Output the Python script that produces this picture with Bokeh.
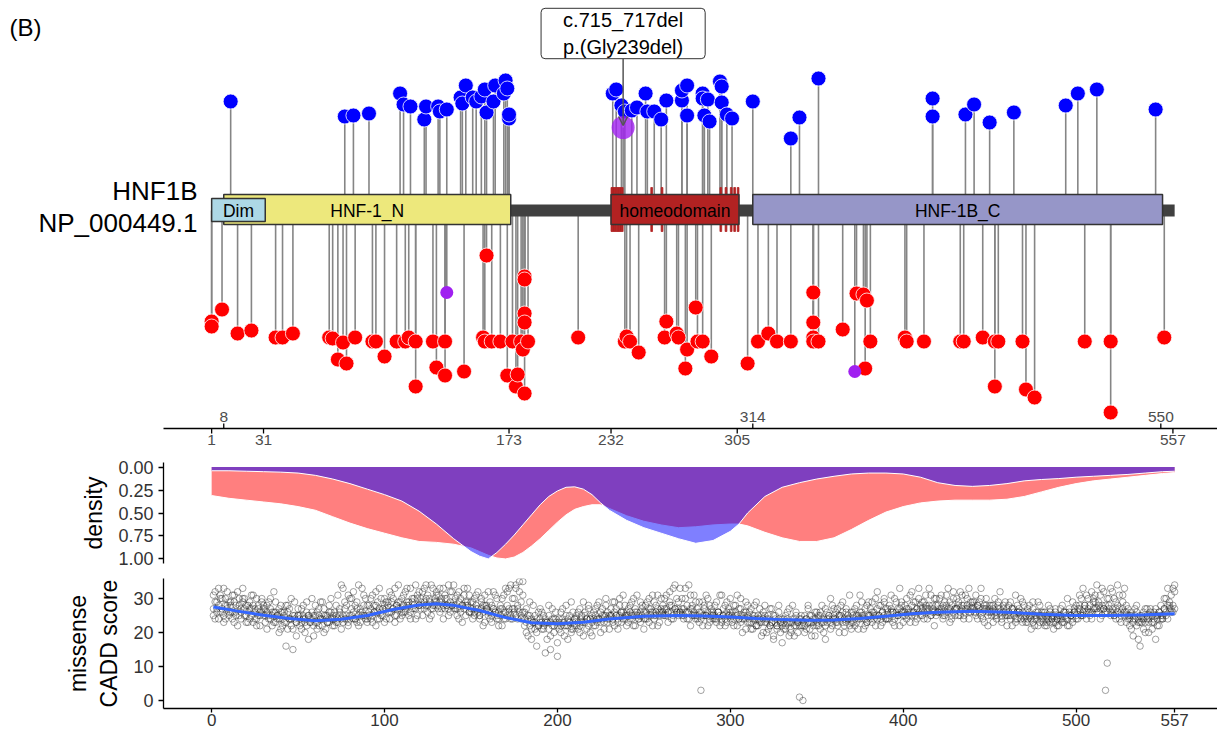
from bokeh.plotting import figure
from bokeh.layouts import column
from bokeh.models import Range1d, FixedTicker, Label, Arrow, OpenHead, NumeralTickFormatter
from bokeh.embed import file_html
from bokeh.resources import INLINE
from bokeh.core.properties import value

FONT = "Liberation Sans"
PROTEIN_LEN = 557

# ---------------- protein domains ----------------
DOMAIN_NAMES = ["HNF-1_N", "homeodomain", "HNF-1B_C"]
DOMAIN_START = [8, 232, 314]
DOMAIN_END = [173, 305, 550]
DOMAIN_COLORS = ["#ede87c", "#b22222", "#9696c8"]
DIM_NAME, DIM_START, DIM_END, DIM_COLOR = "Dim", 1, 31, "#add8e6"
HD_MARKS = [232, 233, 234, 235, 236, 237, 238, 255, 261, 295, 298, 301, 303, 305]

TICKS_BELOW = [1, 31, 173, 232, 305, 557]
TICKS_ABOVE = [8, 314, 550]

# ---------------- lollipops ----------------
BLUE_POS = [12, 78, 83, 92, 110, 112, 116, 124, 125, 132, 133, 137, 145, 146, 148, 152, 154, 157, 159, 160,
            164, 165, 170, 171, 172, 173, 173,
            233, 235, 238, 240, 244, 247, 252, 253, 257, 261, 264, 273, 273, 276, 276, 285, 285, 288, 286, 289,
            295, 296, 296, 299, 302, 314,
            336, 341, 352, 418, 418, 437, 442, 451, 465, 495, 502, 513, 547]
BLUE_H = [109, 94, 95, 97, 117, 106, 104, 91, 104, 104, 99, 101, 113, 107, 125, 113, 109, 114, 121, 98,
          109, 125, 117, 130, 122, 92, 96,
          117, 121, 105, 99, 100, 103, 117, 99, 99, 91, 110, 110, 120, 125, 95, 117, 112, 111, 95, 89,
          129, 124, 108, 96, 92, 109,
          72, 93, 132, 112, 94, 96, 106, 88, 98, 105, 117, 121, 101]

RED_POS = [1, 1, 7, 16, 24, 38, 42, 48, 69, 71, 74, 77, 79, 84, 94, 96, 101, 108, 113, 115,
           119, 119, 129, 131, 136, 136, 147, 158, 159, 160, 163, 168, 172, 175, 177, 178, 180, 181, 182, 182,
           182, 182, 182, 184,
           213, 240, 241, 243, 248, 263, 264, 270, 271, 275, 276, 281, 282, 285, 290, 311, 317, 323, 328, 336,
           349, 349, 349, 349, 352, 366, 374, 378, 379, 380, 382,
           402, 403, 413, 434, 436, 447, 454, 454, 456, 470, 472, 477, 506, 521, 521, 552]
RED_DEPTH = [111, 116, 99, 123, 120, 127, 127, 123, 127, 128, 149, 132, 153, 127, 131, 131, 146, 131, 131, 127,
             131, 176, 131, 157, 131, 165, 161, 127, 131, 45, 131, 131, 165, 131, 176, 164, 131, 139, 66, 69,
             103, 112, 183, 131,
             127, 131, 126, 131, 142, 127, 111, 123, 127, 158, 139, 97, 131, 131, 146, 153, 131, 123, 131, 131,
             82, 112, 127, 131, 131, 119, 83, 84, 158, 90, 131,
             127, 131, 131, 131, 131, 127, 131, 176, 131, 131, 179, 187, 131, 131, 202, 127]

PURPLE_POS = [137, 373]
PURPLE_DEPTH = [82, 161]
HL_POS = [239]
HL_H = [83]
HL_TEXT = "c.715_717del\np.(Gly239del)"

# ---------------- density ----------------
DENS_POS = [0, 10, 20, 30, 40, 50, 60, 70, 80, 90, 100, 110, 120, 130, 140, 150,
            155, 160, 165, 170, 175, 180, 185, 190, 195, 200, 205, 210, 215, 220, 225, 230,
            240, 250, 260, 270, 280, 290, 300, 305, 310,
            320, 330, 340, 350, 360, 370, 380, 390, 400, 410, 420, 430, 440, 450, 460, 470,
            480, 490, 500, 510, 520, 530, 540, 550, 557]
DENS_RED = [0.31, 0.34, 0.36, 0.38, 0.40, 0.43, 0.47, 0.54, 0.61, 0.67, 0.72, 0.77, 0.81, 0.82, 0.84, 0.88,
            0.92, 0.96, 0.99, 1.00, 0.98, 0.93, 0.86, 0.78, 0.69, 0.60, 0.52, 0.46, 0.43, 0.41, 0.41, 0.45,
            0.53, 0.59, 0.63, 0.66, 0.65, 0.63, 0.62, 0.62, 0.64,
            0.71, 0.77, 0.81, 0.81, 0.77, 0.68, 0.58, 0.49, 0.43, 0.39, 0.37, 0.36, 0.36, 0.36, 0.35, 0.32,
            0.27, 0.22, 0.18, 0.15, 0.13, 0.11, 0.09, 0.07, 0.06]
DENS_BLUE = [0.04, 0.04, 0.045, 0.05, 0.055, 0.065, 0.09, 0.13, 0.18, 0.24, 0.30, 0.37, 0.48, 0.62, 0.78, 0.92,
             0.97, 1.00, 0.93, 0.84, 0.74, 0.63, 0.52, 0.41, 0.32, 0.26, 0.22, 0.215, 0.24, 0.30, 0.39, 0.47,
             0.58, 0.66, 0.72, 0.78, 0.83, 0.80, 0.70, 0.62, 0.50,
             0.32, 0.22, 0.17, 0.13, 0.10, 0.075, 0.065, 0.065, 0.075, 0.11, 0.17, 0.20, 0.21, 0.20, 0.18, 0.15,
             0.135, 0.125, 0.11, 0.10, 0.09, 0.08, 0.065, 0.05, 0.045]

# ---------------- missense CADD scores (three substitutions per residue, positions 1..557) ----------------
CADD_A = [
    31, 24, 29, 33, 26, 30, 23, 28, 32, 25,
    29, 24, 31, 26, 22, 30, 27, 33, 25, 28,
    23, 29, 27, 31, 24, 22, 28, 26, 30, 25,
    27, 21, 29, 24, 26, 32, 23, 25, 20, 28,
    22, 26, 16, 28, 24, 30, 21, 25, 19, 27,
    25, 21, 28, 23, 26, 18, 24, 30, 22, 25,
    21, 27, 24, 29, 20, 25, 23, 28, 26, 22,
    26, 23, 31, 25, 21, 33, 24, 28, 22, 30,
    27, 32, 24, 29, 22, 26, 33, 25, 30, 23,
    28, 24, 31, 26, 22, 29, 33, 25, 27, 30,
    24, 29, 32, 26, 30, 23, 28, 34, 27, 25,
    31, 26, 33, 29, 24, 30, 27, 34, 25, 32,
    30, 25, 33, 28, 31, 24, 34, 27, 29, 32,
    27, 33, 30, 24, 31, 28, 34, 26, 32, 29,
    30, 25, 32, 27, 23, 31, 28, 33, 26, 29,
    24, 30, 27, 32, 25, 29, 22, 31, 28, 26,
    29, 23, 27, 31, 25, 22, 28, 30, 24, 33,
    32, 27, 34, 24, 30, 33, 28, 35, 25, 31,
    26, 20, 24, 29, 18, 23, 25, 16, 22, 27,
    21, 25, 14, 23, 28, 19, 24, 22, 26, 17,
    24, 20, 27, 22, 25, 18, 23, 29, 21, 24,
    22, 26, 20, 25, 29, 23, 21, 27, 24, 19,
    26, 22, 28, 24, 20, 27, 25, 30, 23, 21,
    27, 23, 29, 25, 21, 28, 26, 31, 24, 22,
    23, 28, 25, 30, 22, 26, 24, 29, 27, 21,
    28, 24, 30, 26, 22, 29, 25, 31, 23, 27,
    25, 30, 27, 23, 32, 28, 24, 34, 26, 29,
    33, 27, 24, 30, 26, 34, 22, 28, 31, 25,
    27, 23, 3, 29, 25, 31, 22, 28, 26, 24,
    24, 29, 26, 22, 31, 25, 28, 23, 27, 30,
    26, 22, 28, 31, 24, 27, 20, 25, 29, 23,
    23, 27, 21, 25, 29, 22, 24, 19, 26, 28,
    20, 25, 22, 27, 18, 24, 21, 26, 23, 17,
    24, 21, 26, 19, 23, 28, 22, 25, 20, 1,
    22, 0, 25, 21, 27, 23, 19, 24, 26, 22,
    25, 21, 28, 23, 18, 26, 24, 30, 22, 27,
    23, 27, 20, 25, 29, 22, 26, 24, 31, 21,
    26, 22, 28, 24, 31, 25, 21, 27, 23, 29,
    24, 29, 26, 22, 32, 25, 28, 23, 30, 27,
    27, 24, 31, 26, 22, 29, 25, 33, 28, 23,
    25, 30, 27, 23, 32, 26, 29, 24, 33, 28,
    29, 24, 31, 27, 33, 25, 28, 22, 30, 26,
    27, 31, 24, 29, 26, 33, 23, 28, 30, 25,
    30, 25, 32, 28, 24, 31, 27, 33, 26, 29,
    26, 31, 24, 29, 33, 27, 23, 30, 25, 28,
    28, 23, 30, 25, 27, 32, 24, 26, 29, 22,
    25, 29, 22, 27, 31, 24, 26, 30, 23, 28,
    23, 27, 25, 21, 29, 24, 26, 22, 28, 25,
    26, 22, 24, 28, 23, 25, 21, 27, 24, 22,
    24, 28, 23, 26, 30, 22, 25, 29, 27, 24,
    27, 31, 25, 33, 28, 24, 30, 26, 32, 29,
    29, 34, 26, 31, 33, 27, 3, 11, 30, 25,
    32, 25, 29, 34, 27, 23, 31, 26, 28, 24,
    22, 26, 19, 25, 28, 23, 16, 24, 21, 27,
    24, 20, 27, 23, 26, 18, 25, 22, 28, 24,
    30, 25, 33, 28, 31, 26, 34]
CADD_B = [
    25, 32, 27, 24, 30, 26, 33, 24, 28, 29,
    26, 31, 23, 28, 32, 25, 24, 29, 30, 23,
    28, 24, 31, 23, 27, 30, 25, 22, 29, 27,
    23, 28, 25, 30, 22, 26, 29, 24, 27, 21,
    26, 23, 28, 21, 27, 24, 15, 29, 23, 25,
    22, 27, 24, 20, 29, 25, 23, 26, 19, 28,
    26, 22, 29, 24, 27, 21, 25, 23, 30, 24,
    22, 28, 24, 27, 34, 23, 29, 25, 31, 24,
    30, 24, 28, 23, 34, 27, 25, 31, 24, 28,
    25, 30, 23, 28, 32, 26, 24, 30, 27, 23,
    29, 26, 24, 31, 27, 33, 25, 29, 24, 30,
    26, 32, 28, 25, 33, 27, 30, 24, 31, 28,
    27, 32, 29, 34, 26, 30, 25, 33, 28, 31,
    31, 26, 29, 33, 27, 30, 25, 32, 28, 34,
    27, 31, 24, 30, 28, 33, 25, 29, 31, 26,
    29, 25, 31, 26, 24, 30, 28, 23, 27, 32,
    24, 28, 32, 26, 30, 24, 27, 22, 31, 26,
    28, 33, 25, 30, 27, 34, 24, 32, 29, 35,
    22, 27, 19, 25, 21, 28, 23, 20, 26, 24,
    26, 21, 23, 18, 25, 15, 27, 20, 24, 13,
    21, 26, 23, 19, 28, 22, 25, 20, 26, 22,
    25, 21, 27, 23, 19, 26, 24, 28, 20, 25,
    22, 27, 24, 29, 23, 25, 21, 28, 26, 24,
    25, 29, 22, 27, 24, 30, 23, 26, 28, 25,
    27, 24, 29, 22, 26, 31, 25, 23, 28, 26,
    24, 29, 23, 27, 31, 25, 28, 22, 26, 30,
    28, 25, 31, 26, 29, 24, 33, 27, 30, 25,
    26, 30, 25, 33, 28, 24, 31, 27, 25, 29,
    24, 29, 26, 22, 28, 25, 30, 23, 27, 25,
    28, 23, 26, 31, 24, 27, 22, 29, 25, 26,
    23, 28, 25, 22, 27, 30, 24, 26, 21, 28,
    26, 21, 24, 28, 22, 25, 27, 23, 20, 25,
    24, 21, 27, 23, 19, 25, 22, 28, 20, 24,
    21, 25, 23, 27, 20, 24, 19, 26, 23, 22,
    25, 22, 20, 24, 28, 21, 25, 23, 19, 26,
    22, 26, 24, 20, 27, 23, 25, 21, 28, 24,
    26, 22, 25, 28, 23, 20, 27, 24, 22, 26,
    23, 27, 25, 21, 26, 29, 24, 22, 28, 25,
    27, 23, 25, 30, 24, 28, 22, 26, 29, 24,
    24, 28, 26, 23, 30, 25, 27, 22, 29, 26,
    28, 24, 26, 31, 25, 29, 23, 27, 30, 25,
    25, 29, 27, 24, 28, 31, 26, 30, 25, 28,
    30, 26, 28, 25, 31, 27, 29, 24, 32, 27,
    27, 29, 25, 31, 28, 26, 30, 24, 29, 27,
    29, 25, 28, 26, 30, 24, 28, 27, 22, 26,
    25, 28, 26, 24, 29, 27, 23, 28, 25, 27,
    28, 24, 27, 25, 23, 28, 26, 24, 29, 25,
    26, 23, 28, 24, 27, 22, 25, 29, 23, 26,
    23, 26, 22, 25, 27, 24, 23, 26, 22, 25,
    27, 23, 26, 24, 22, 27, 25, 23, 26, 28,
    24, 28, 30, 25, 27, 31, 26, 28, 24, 30,
    31, 27, 29, 24, 28, 32, 26, 30, 28, 33,
    27, 30, 24, 28, 31, 25, 29, 33, 23, 27,
    25, 21, 24, 27, 22, 18, 25, 23, 26, 20,
    27, 23, 25, 21, 24, 27, 22, 26, 24, 25,
    27, 30, 24, 29, 27, 33, 32]
CADD_C = [
    27, 29, 26, 28, 31, 27, 25, 30, 27, 26,
    28, 26, 29, 25, 27, 28, 26, 30, 27, 25,
    26, 27, 25, 28, 26, 24, 27, 25, 26, 28,
    25, 26, 24, 27, 25, 23, 26, 25, 24, 26,
    24, 25, 23, 26, 24, 22, 25, 24, 23, 25,
    24, 23, 25, 24, 22, 25, 23, 24, 25, 23,
    23, 25, 24, 22, 25, 24, 23, 26, 24, 25,
    24, 25, 23, 26, 24, 25, 27, 24, 23, 25,
    25, 26, 24, 27, 25, 23, 26, 28, 25, 24,
    26, 27, 25, 26, 28, 24, 27, 26, 25, 28,
    27, 28, 26, 29, 27, 25, 28, 27, 29, 26,
    28, 27, 29, 28, 26, 29, 28, 27, 30, 28,
    29, 28, 27, 30, 28, 29, 27, 28, 30, 29,
    28, 29, 27, 28, 30, 28, 27, 29, 28, 27,
    28, 27, 29, 26, 28, 27, 29, 28, 26, 27,
    27, 26, 28, 27, 25, 27, 26, 28, 27, 25,
    26, 25, 27, 26, 24, 26, 25, 27, 26, 24,
    25, 26, 24, 27, 26, 25, 27, 26, 24, 26,
    24, 23, 25, 22, 24, 23, 21, 24, 22, 23,
    23, 22, 24, 23, 21, 23, 22, 24, 23, 22,
    23, 22, 24, 23, 22, 24, 23, 21, 23, 24,
    24, 23, 22, 24, 23, 25, 24, 22, 24, 23,
    24, 25, 23, 24, 26, 24, 23, 25, 24, 25,
    25, 24, 26, 25, 23, 25, 26, 24, 25, 26,
    25, 26, 24, 25, 27, 25, 24, 26, 25, 24,
    26, 25, 27, 25, 26, 24, 26, 27, 25, 26,
    26, 27, 25, 26, 28, 26, 25, 27, 26, 27,
    26, 25, 27, 26, 24, 26, 27, 25, 26, 24,
    25, 26, 24, 25, 27, 25, 26, 24, 25, 26,
    25, 24, 26, 25, 23, 25, 24, 26, 25, 24,
    25, 24, 26, 25, 24, 23, 25, 24, 26, 25,
    24, 23, 25, 24, 22, 24, 23, 25, 24, 23,
    23, 24, 22, 23, 25, 23, 22, 24, 23, 22,
    23, 22, 24, 23, 21, 23, 24, 22, 23, 24,
    24, 23, 22, 24, 23, 25, 23, 22, 24, 23,
    24, 25, 23, 24, 22, 24, 25, 23, 24, 25,
    24, 23, 25, 24, 26, 24, 23, 25, 24, 23,
    25, 24, 23, 25, 24, 26, 25, 24, 23, 25,
    25, 26, 24, 25, 27, 25, 24, 26, 25, 24,
    26, 25, 27, 26, 24, 26, 25, 27, 26, 25,
    26, 27, 25, 26, 28, 26, 25, 27, 26, 27,
    27, 26, 28, 26, 27, 25, 27, 26, 28, 26,
    26, 27, 25, 27, 28, 26, 27, 25, 26, 27,
    27, 28, 26, 27, 25, 27, 28, 26, 27, 28,
    27, 26, 28, 27, 25, 26, 27, 28, 26, 27,
    26, 27, 25, 26, 28, 26, 25, 27, 26, 25,
    26, 25, 27, 26, 24, 26, 27, 25, 26, 24,
    25, 24, 26, 25, 23, 25, 24, 26, 25, 24,
    24, 25, 23, 24, 26, 24, 25, 23, 24, 25,
    25, 24, 26, 25, 24, 26, 25, 24, 26, 25,
    26, 27, 25, 26, 28, 26, 27, 25, 26, 27,
    27, 26, 28, 27, 25, 27, 28, 26, 27, 26,
    26, 25, 27, 26, 24, 26, 27, 25, 26, 25,
    24, 25, 23, 24, 26, 24, 23, 25, 24, 23,
    25, 24, 26, 25, 23, 25, 24, 26, 25, 24,
    27, 26, 28, 27, 26, 28, 27]

# loess-like trend of CADD score
SMOOTH_POS = [1, 15, 30, 45, 60, 75, 90, 105, 120, 130, 140, 155, 170, 185, 200, 215, 230, 250, 270, 285,
              300, 315, 330, 345, 360, 375, 390, 405, 420, 440, 460, 480, 500, 520, 540, 557]
SMOOTH_VAL = [27.5, 26.3, 25.1, 24.1, 23.5, 23.9, 25.0, 26.8, 28.1, 28.5, 28.0, 26.5, 24.4, 22.9, 22.6, 23.0,
              24.0, 24.8, 25.0, 24.9, 24.6, 24.1, 23.8, 23.6, 23.7, 24.1, 24.8, 25.5, 26.0, 26.3, 26.0, 25.4,
              25.0, 25.0, 25.2, 25.5]

BOTTOM_TICKS = [0, 100, 200, 300, 400, 500, 557]
DENS_TICKS = [0, 0.25, 0.5, 0.75, 1.0]
CADD_TICKS = [0, 10, 20, 30]

# ---------------- layout constants ----------------
W = 1217
LEFT = 163
SCALE = 1.7289                       # pixels per residue
X0 = -27.85
X1 = X0 + (W - LEFT) / SCALE
STEM = "#858585"


def style_axis(ax, size="18px", color="#333333"):
    ax.axis_line_color = "black"
    ax.axis_line_width = 1.3
    ax.major_tick_line_color = "black"
    ax.major_tick_line_width = 1.3
    ax.major_tick_out = 5
    ax.major_tick_in = 0
    ax.minor_tick_line_color = None
    ax.major_label_text_font = FONT
    ax.major_label_text_font_size = size
    ax.major_label_text_color = color
    ax.axis_label_text_font = FONT
    ax.axis_label_text_font_style = "normal"
    ax.axis_label_text_font_size = "23px"
    ax.axis_label_text_color = "black"


def base(fig):
    fig.xgrid.visible = False
    fig.ygrid.visible = False
    fig.outline_line_color = None
    fig.background_fill_color = "white"
    fig.border_fill_color = "white"


# ================= top: lollipop (frame covers the whole canvas) =================
TOP_H = 456
Y_TOP = 210
Y_AXIS = -218
p1 = figure(width=W, height=TOP_H, x_range=Range1d(X0 + 1 - LEFT / SCALE, X1 + 1),
            y_range=Range1d(Y_TOP - TOP_H, Y_TOP),
            output_backend="svg", toolbar_location=None,
            x_axis_location=None, y_axis_location=None,
            min_border_left=0, min_border_right=0, min_border_top=0, min_border_bottom=0)
frame_left = 0
try:
    p1.frame_align = False
except Exception:
    p1.min_border_left = LEFT
    p1.x_range = Range1d(X0 + 1, X1 + 1)
    frame_left = LEFT
base(p1)

red_y = [-d for d in RED_DEPTH]
purple_y = [-d for d in PURPLE_DEPTH]

p1.segment(x0=BLUE_POS, y0=0, x1=BLUE_POS, y1=BLUE_H, line_color=STEM, line_width=1.6)
p1.segment(x0=RED_POS, y0=0, x1=RED_POS, y1=red_y, line_color=STEM, line_width=1.6)
p1.segment(x0=PURPLE_POS, y0=0, x1=PURPLE_POS, y1=purple_y, line_color=STEM, line_width=1.6)
p1.segment(x0=HL_POS, y0=0, x1=HL_POS, y1=HL_H, line_color=STEM, line_width=1.6)

# backbone
p1.quad(left=[1], right=[PROTEIN_LEN + 1], top=6, bottom=-6, fill_color="#404040", line_color=None)
# homeodomain marks
p1.quad(left=HD_MARKS, right=[m + 1 for m in HD_MARKS], top=23, bottom=-21,
        fill_color="#b22222", line_color="#b22222", line_width=0.8)
# domains
p1.quad(left=DOMAIN_START, right=[e + 1 for e in DOMAIN_END], top=16, bottom=-14,
        fill_color=DOMAIN_COLORS, line_color="#333333", line_width=1.5)
p1.quad(left=[DIM_START], right=[DIM_END + 1], top=12, bottom=-11,
        fill_color=DIM_COLOR, line_color="#333333", line_width=1.5)
p1.text(x=[(s + e + 1) / 2 for s, e in zip(DOMAIN_START, DOMAIN_END)], y=0, text=DOMAIN_NAMES,
        text_align="center", text_baseline="middle", text_font=value(FONT),
        text_font_size="17.5px", text_color="black")
p1.text(x=[(DIM_START + DIM_END + 1) / 2], y=0, text=[DIM_NAME],
        text_align="center", text_baseline="middle", text_font=value(FONT),
        text_font_size="17.5px", text_color="black")

# heads
p1.scatter(BLUE_POS, BLUE_H, size=15, fill_color="#0000ff", line_color="white", line_width=0.8)
p1.scatter(RED_POS, red_y, size=15, fill_color="#ff0000", line_color="white", line_width=0.8)
p1.scatter(PURPLE_POS, purple_y, size=13, fill_color="#a020f0", line_color=None)
p1.scatter(HL_POS, HL_H, size=23, fill_color="#a020f0", fill_alpha=0.8, line_color=None)

# protein position axis (ticks below and above the line)
p1.segment(x0=[X0 + 1], y0=[Y_AXIS], x1=[X1 + 1], y1=[Y_AXIS], line_color="black", line_width=1.3)
p1.segment(x0=TICKS_BELOW, y0=Y_AXIS, x1=TICKS_BELOW, y1=Y_AXIS - 5, line_color="black", line_width=1.3)
p1.text(x=TICKS_BELOW, y=Y_AXIS - 6, text=[str(t) for t in TICKS_BELOW], text_align="center",
        text_baseline="top", text_font=value(FONT), text_font_size="15.5px", text_color="#4d4d4d")
p1.segment(x0=TICKS_ABOVE, y0=Y_AXIS, x1=TICKS_ABOVE, y1=Y_AXIS + 5, line_color="black", line_width=1.3)
p1.text(x=TICKS_ABOVE, y=Y_AXIS + 7, text=[str(t) for t in TICKS_ABOVE], text_align="center",
        text_baseline="bottom", text_font=value(FONT), text_font_size="15.5px", text_color="#4d4d4d")

# callout
p1.add_layout(Label(x=HL_POS[0], y=177, text=HL_TEXT, text_align="center", text_baseline="middle",
                    text_font=FONT, text_font_size="20px", text_color="black",
                    background_fill_color="white", border_line_color="#333333", border_line_width=1,
                    padding=dict(left=22, right=22, top=1, bottom=1), border_radius=4))
p1.add_layout(Arrow(end=OpenHead(size=9, line_color="#555555", line_width=1.5),
                    x_start=HL_POS[0], y_start=152, x_end=HL_POS[0], y_end=HL_H[0] + 2,
                    line_color="#555555", line_width=1.5))

# gene labels
xs = p1.x_range.start
p1.add_layout(Label(x=xs, x_offset=197 - frame_left, y=20, text="HNF1B", text_align="right",
                    text_baseline="middle", text_font=FONT, text_font_size="26px", text_color="black"))
p1.add_layout(Label(x=xs, x_offset=197 - frame_left, y=-12, text="NP_000449.1", text_align="right",
                    text_baseline="middle", text_font=FONT, text_font_size="26px", text_color="black"))
p1.add_layout(Label(x=xs, x_offset=9 - frame_left, y=183, text="(B)", text_align="left",
                    text_baseline="middle", text_font=FONT, text_font_size="24px", text_color="black"))

# ================= middle: density =================
xr = Range1d(X0, X1)
p2 = figure(width=W, height=114, x_range=xr, y_range=Range1d(1.05, -0.05),
            output_backend="svg", toolbar_location=None,
            min_border_left=LEFT, min_border_right=0, min_border_top=6, min_border_bottom=7)
base(p2)
p2.xaxis.visible = False
p2.varea(x=DENS_POS, y1=0, y2=DENS_RED, fill_color="#ff0000", fill_alpha=0.5)
p2.line(DENS_POS, DENS_RED, line_color="white", line_width=1)
p2.varea(x=DENS_POS, y1=0, y2=DENS_BLUE, fill_color="#0000ff", fill_alpha=0.5)
p2.line(DENS_POS, DENS_BLUE, line_color="white", line_width=1)
style_axis(p2.yaxis[0])
p2.yaxis.ticker = FixedTicker(ticks=DENS_TICKS)
p2.yaxis.formatter = NumeralTickFormatter(format="0.00")
p2.yaxis.axis_label = "density"
p2.yaxis.axis_label_standoff = 8

# ================= bottom: CADD =================
p3 = figure(width=W, height=163, x_range=xr, y_range=Range1d(-2.35, 35.9),
            output_backend="svg", toolbar_location=None,
            min_border_left=LEFT, min_border_right=0, min_border_top=8, min_border_bottom=25)
base(p3)
cx, cy = [], []
for row in (CADD_A, CADD_B, CADD_C):
    cx += list(range(1, len(row) + 1))
    cy += row
p3.scatter(cx, cy, marker="circle", size=6.5, fill_color=None, line_color="#1a1a1a",
           line_alpha=0.4, line_width=1)
p3.line(SMOOTH_POS, SMOOTH_VAL, line_color="#3366ff", line_width=3)
style_axis(p3.xaxis[0], size="17px")
style_axis(p3.yaxis[0])
p3.xaxis.major_tick_out = 4
p3.xaxis.ticker = FixedTicker(ticks=BOTTOM_TICKS)
p3.yaxis.ticker = FixedTicker(ticks=CADD_TICKS)
p3.xaxis.major_label_standoff = 1
p3.yaxis.axis_label = "missense\nCADD score"
p3.yaxis.axis_label_standoff = 8

layout = column(p1, p2, p3)
open("out.html", "w").write(file_html(layout, INLINE))
